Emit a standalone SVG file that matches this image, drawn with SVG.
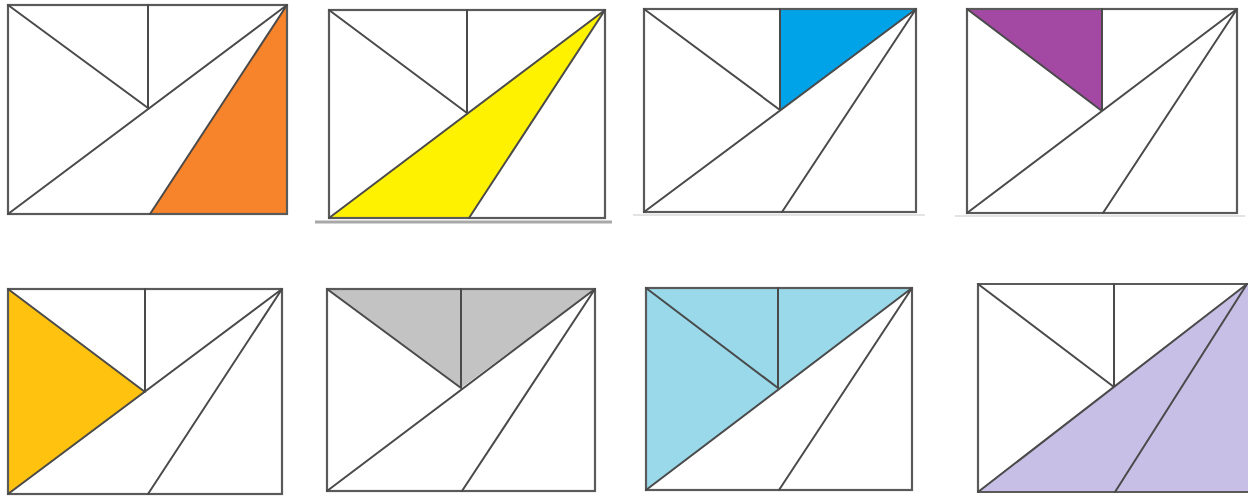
<svg xmlns="http://www.w3.org/2000/svg" width="1248" height="497" viewBox="0 0 1248 497">
<style>
.ln{stroke:#4a4a4a;stroke-width:2;fill:none;stroke-linecap:round;stroke-linejoin:round}
.fr{stroke:#5a5a5a;stroke-width:2.2;fill:none}
.gl{stroke:#a8a8a8;stroke-width:3}
.gt{stroke:#c8c8c8;stroke-width:1.2}
</style>
<rect width="1248" height="497" fill="#ffffff"/>
<g id="panel1">
<polygon points="150,214 287,5 287,214" fill="#f7832a"/>
<rect class="fr" x="8" y="5" width="279" height="209"/>
<path class="ln" d="M8,5 L148,108 M148,5 L148,108 M8,214 L287,5 M287,5 L150,214"/>
</g>
<g id="panel2">
<line class="gl" x1="315" y1="222" x2="612" y2="222"/>
<polygon points="329,218 605,10 469,218" fill="#fff200"/>
<rect class="fr" x="329" y="10" width="276" height="208"/>
<path class="ln" d="M329,10 L467,113 M467,10 L467,113 M329,218 L605,10 M605,10 L469,218"/>
</g>
<g id="panel3">
<line class="gt" x1="633" y1="215" x2="925" y2="215"/>
<polygon points="780,9 916,9 780,110" fill="#00a2e8"/>
<rect class="fr" x="644" y="9" width="272" height="203"/>
<path class="ln" d="M644,9 L780,110 M780,9 L780,110 M644,212 L916,9 M916,9 L782,212"/>
</g>
<g id="panel4">
<line class="gt" x1="955" y1="216" x2="1245" y2="216"/>
<polygon points="967,9 1102,9 1102,111" fill="#a349a4"/>
<rect class="fr" x="967" y="9" width="270" height="204"/>
<path class="ln" d="M967,9 L1102,111 M1102,9 L1102,111 M967,213 L1237,9 M1237,9 L1103,213"/>
</g>
<g id="panel5">
<polygon points="8,289 145,392 8,494" fill="#ffc20e"/>
<rect class="fr" x="8" y="289" width="274" height="205"/>
<path class="ln" d="M8,289 L145,392 M145,289 L145,392 M8,494 L282,289 M282,289 L148,494"/>
</g>
<g id="panel6">
<polygon points="327,289 595,289 461,388" fill="#c3c3c3"/>
<rect class="fr" x="327" y="289" width="268" height="202"/>
<path class="ln" d="M327,289 L461,388 M461,289 L461,388 M327,491 L595,289 M595,289 L462,491"/>
</g>
<g id="panel7">
<polygon points="646,288 912,288 646,490" fill="#99d9ea"/>
<rect class="fr" x="646" y="288" width="266" height="202"/>
<path class="ln" d="M646,288 L778,388 M778,288 L778,388 M646,490 L912,288 M912,288 L779,490"/>
</g>
<g id="panel8">
<polygon points="978,492 1247,284 1248,284 1248,492" fill="#c8bfe7"/>
<path class="fr" d="M1248,284 L978,284 L978,492 L1248,492"/>
<path class="ln" d="M978,284 L1114,387 M1114,284 L1114,387 M978,492 L1247,284 M1247,284 L1115,492"/>
</g>
</svg>
